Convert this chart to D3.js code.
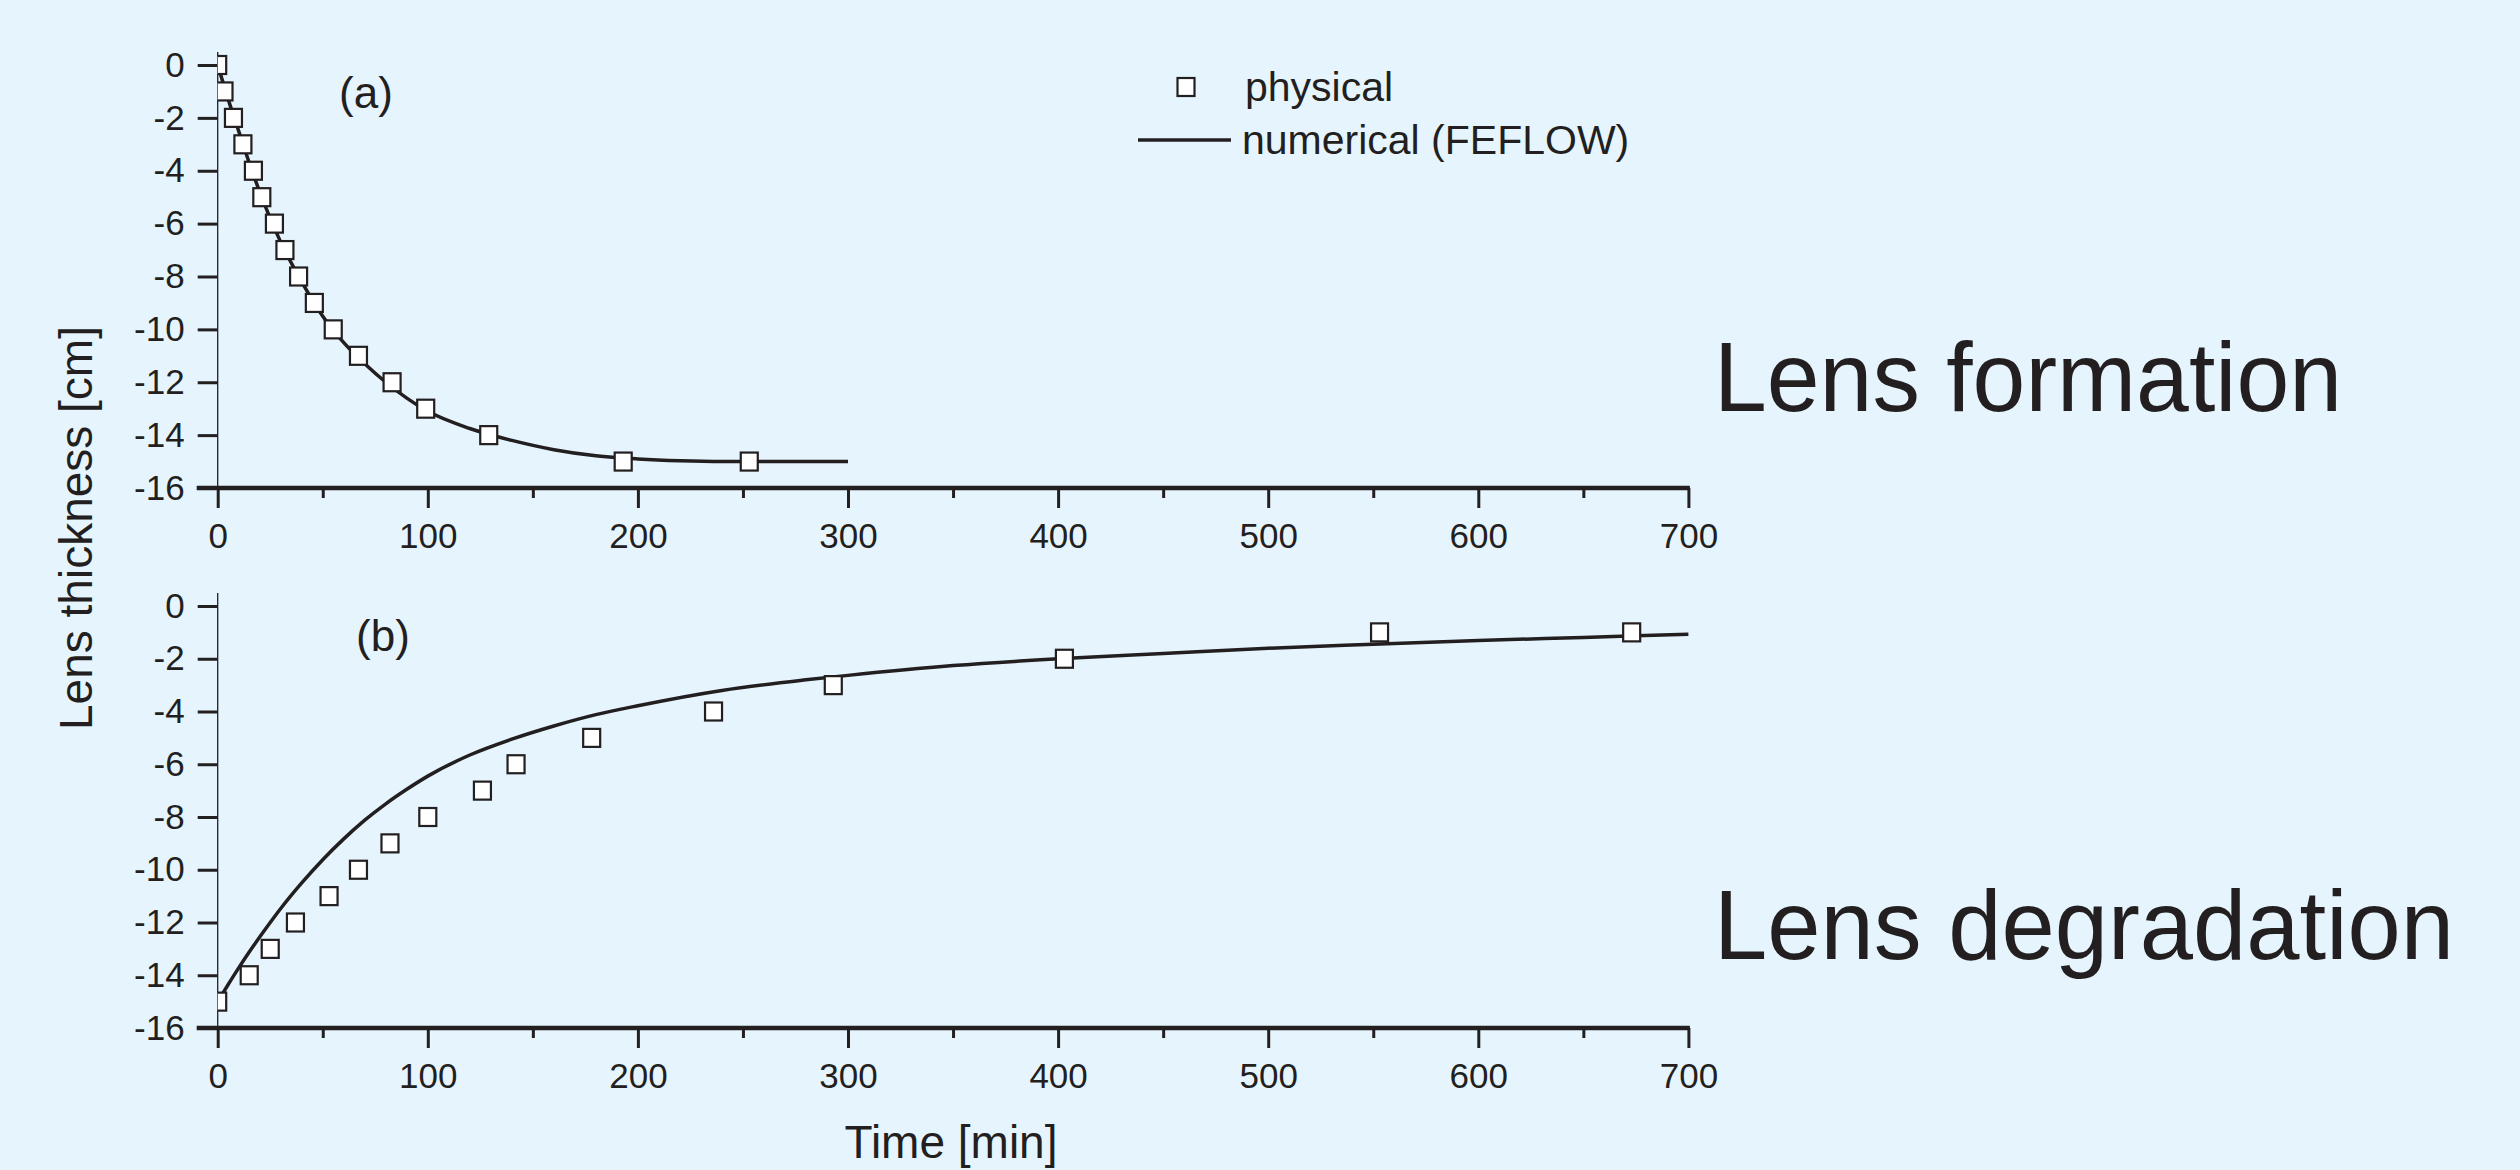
<!DOCTYPE html>
<html lang="en">
  <head>
    <meta charset="utf-8">
    <title>Lens thickness</title>
    <script src="https://d3js.org/d3.v7.min.js"></script>
    <style>
      body { margin: 0; background: #e6f5fd; }
      text { font-family: "Liberation Sans", Arial, sans-serif; fill: #231f20; }
    </style>
  </head>
  <body>
    <script>
      var width = 2520;
      var height = 1170;
      var ink = "#231f20";

      // (a) lens formation
      var formationTime = [0, 3, 7.5, 12, 17, 21, 27, 32, 38.5, 46, 55, 67, 83, 99, 129, 193, 253];
      var formationThick = [0, -1, -2, -3, -4, -5, -6, -7, -8, -9, -10, -11, -12, -13, -14, -15, -15];
      var formationModelTime = [0, 5, 10, 15, 20, 25, 30, 40, 50, 60, 70, 80, 90, 100, 120, 140, 160, 180, 200, 220, 240, 260, 280, 300];
      var formationModelThick = [0, -1.3, -2.5, -3.7, -4.8, -5.8, -6.7, -8.2, -9.5, -10.5, -11.3, -12.0, -12.6, -13.1, -13.75, -14.2, -14.55, -14.78, -14.9, -14.97, -15.0, -15.0, -15.0, -15.0];

      // (b) lens degradation
      var degradationTime = [0, 15, 25, 37, 53, 67, 82, 100, 126, 142, 178, 236, 293, 403, 553, 673];
      var degradationThick = [-15, -14, -13, -12, -11, -10, -9, -8, -7, -6, -5, -4, -3, -2, -1, -1];
      var degradationModelTime = [0, 5, 10, 15, 20, 25, 30, 40, 50, 60, 70, 80, 90, 100, 120, 140, 160, 180, 200, 240, 280, 300, 350, 400, 450, 500, 550, 600, 650, 700];
      var degradationModelThick = [-15, -14.35, -13.72, -13.12, -12.55, -12.0, -11.47, -10.5, -9.62, -8.83, -8.12, -7.5, -6.95, -6.45, -5.65, -5.05, -4.55, -4.12, -3.78, -3.2, -2.8, -2.63, -2.26, -2.0, -1.8, -1.6, -1.45, -1.31, -1.19, -1.07];

      var xTicks = [0, 100, 200, 300, 400, 500, 600, 700];
      var xMinorTicks = [50, 150, 250, 350, 450, 550, 650];
      var yTicks = [0, -2, -4, -6, -8, -10, -12, -14, -16];
      var seriesNames = ["physical", "numerical (FEFLOW)"];

      var svg = d3.select("body")
        .append("svg")
        .attr("width", width)
        .attr("height", height);

      svg.append("rect")
        .attr("width", width)
        .attr("height", height)
        .attr("fill", "#e6f5fd");

      var x = d3.scaleLinear()
        .domain([0, 700])
        .range([217.7, 1688.4]);

      var panels = [
        {id: "a", top: 65, bottom: 488, time: formationTime, thick: formationThick,
         mTime: formationModelTime, mThick: formationModelThick, labelY: 108, labelX: 366},
        {id: "b", top: 606, bottom: 1028, time: degradationTime, thick: degradationThick,
         mTime: degradationModelTime, mThick: degradationModelThick, labelY: 651, labelX: 383}
      ];

      panels.forEach(function(p) {
        var y = d3.scaleLinear()
          .domain([0, -16])
          .range([p.top, p.bottom]);

        var g = svg.append("g");

        // clip marks at the y axis like the original
        g.append("clipPath")
          .attr("id", "clip-" + p.id)
          .append("rect")
            .attr("x", x(0))
            .attr("y", p.top - 30)
            .attr("width", x(700) - x(0) + 20)
            .attr("height", p.bottom - p.top + 40);

        // left axis
        var yAxis = g.append("g")
          .attr("transform", `translate(${x(0)},0)`)
          .call(d3.axisLeft(y).tickValues(yTicks).tickSize(20).tickPadding(13)
            .tickFormat(function(d) { return String(d); }));
        yAxis.select(".domain").remove();
        yAxis.selectAll(".tick line").attr("stroke", ink).attr("stroke-width", 3);
        yAxis.selectAll("text").attr("font-size", 35).style("fill", ink);
        g.append("line")
          .attr("x1", x(0)).attr("x2", x(0))
          .attr("y1", p.top - 13).attr("y2", p.bottom)
          .attr("stroke", ink).attr("stroke-width", 1.3);

        // bottom axis
        var xAxis = g.append("g")
          .attr("transform", `translate(0,${p.bottom})`)
          .call(d3.axisBottom(x).tickValues(xTicks).tickSize(20).tickPadding(15)
            .tickFormat(function(d) { return String(d); }));
        xAxis.select(".domain").remove();
        xAxis.selectAll(".tick line").attr("stroke", ink).attr("stroke-width", 3);
        xAxis.selectAll("text").attr("font-size", 35).style("fill", ink);

        var xMinor = g.append("g")
          .attr("transform", `translate(0,${p.bottom})`)
          .call(d3.axisBottom(x).tickValues(xMinorTicks).tickSize(10).tickFormat(""));
        xMinor.select(".domain").remove();
        xMinor.selectAll(".tick line").attr("stroke", ink).attr("stroke-width", 3);

        g.append("line")
          .attr("x1", x(0) - 21).attr("x2", x(700) + 1.5)
          .attr("y1", p.bottom).attr("y2", p.bottom)
          .attr("stroke", ink).attr("stroke-width", 4.5);

        var marks = g.append("g").attr("clip-path", `url(#clip-${p.id})`);

        var line = d3.line()
          .x(function(d) { return x(d[0]); })
          .y(function(d) { return y(d[1]); })
          .curve(d3.curveMonotoneX);

        marks.append("path")
          .datum(d3.zip(p.mTime, p.mThick))
          .attr("d", line)
          .attr("fill", "none")
          .attr("stroke", ink)
          .attr("stroke-width", 3.5);

        marks.selectAll("rect.pt")
          .data(d3.zip(p.time, p.thick))
          .enter()
          .append("rect")
            .attr("class", "pt")
            .attr("x", function(d) { return x(d[0]) - 8.5; })
            .attr("y", function(d) { return y(d[1]) - 9; })
            .attr("width", 17)
            .attr("height", 18)
            .attr("fill", "#ffffff")
            .attr("stroke", ink)
            .attr("stroke-width", 2.2);

        g.append("text")
          .attr("x", p.labelX)
          .attr("y", p.labelY)
          .attr("text-anchor", "middle")
          .attr("font-size", 44)
          .text("(" + p.id + ")");
      });

      // legend
      var legend = svg.append("g");
      legend.append("rect")
        .attr("x", 1177.5).attr("y", 78)
        .attr("width", 17).attr("height", 18)
        .attr("fill", "#ffffff").attr("stroke", ink).attr("stroke-width", 2.2);
      legend.append("text")
        .attr("x", 1245).attr("y", 101)
        .attr("font-size", 41)
        .text(seriesNames[0]);
      legend.append("line")
        .attr("x1", 1138).attr("x2", 1231)
        .attr("y1", 140).attr("y2", 140)
        .attr("stroke", ink).attr("stroke-width", 3.5);
      legend.append("text")
        .attr("x", 1242).attr("y", 154)
        .attr("font-size", 41)
        .text(seriesNames[1]);

      // axis titles
      svg.append("text")
        .attr("transform", "translate(92,528) rotate(-90)")
        .attr("text-anchor", "middle")
        .attr("font-size", 46)
        .text("Lens thickness [cm]");
      svg.append("text")
        .attr("x", 951).attr("y", 1158)
        .attr("text-anchor", "middle")
        .attr("font-size", 46)
        .text("Time [min]");

      // side captions
      svg.append("text")
        .attr("x", 1714).attr("y", 411)
        .attr("font-size", 98)
        .attr("textLength", 628)
        .attr("lengthAdjust", "spacingAndGlyphs")
        .text("Lens formation");
      svg.append("text")
        .attr("x", 1714).attr("y", 959)
        .attr("font-size", 98)
        .attr("textLength", 740)
        .attr("lengthAdjust", "spacingAndGlyphs")
        .text("Lens degradation");
    </script>
  </body>
</html>
